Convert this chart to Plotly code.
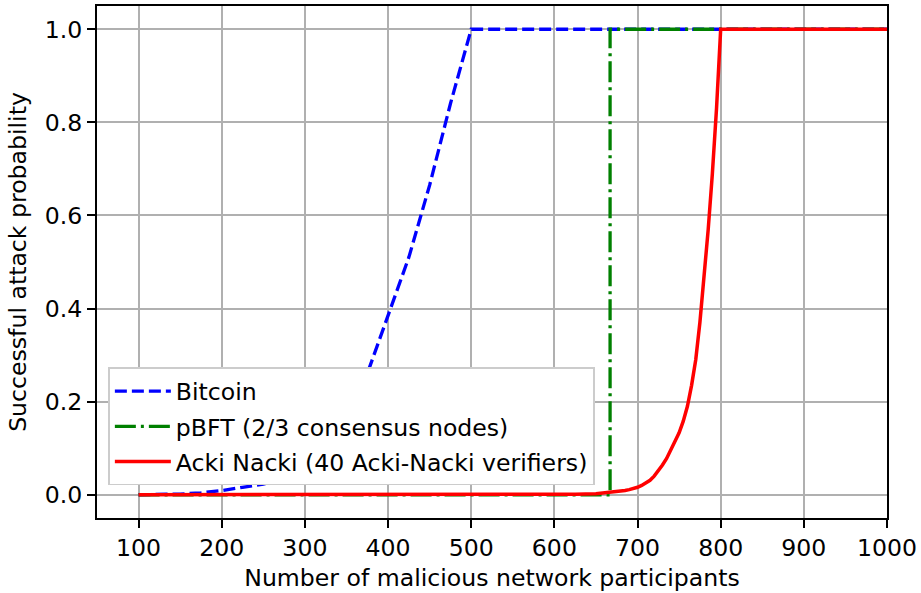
import plotly.graph_objects as go

# Data
bitcoin_x = [100, 125, 150, 175, 200, 225, 250, 275, 300, 325, 350, 375, 400, 425, 450, 475, 500, 1000]
bitcoin_y = [0.0, 0.0005, 0.0015, 0.004, 0.009, 0.016, 0.023, 0.034, 0.055, 0.09, 0.155, 0.26, 0.385, 0.51, 0.665, 0.84, 1.0, 1.0]

pbft_x = [100, 667, 667, 1000]
pbft_y = [0.0, 0.0, 1.0, 1.0]

acki_x = [100, 200, 300, 400, 500, 600, 625, 650, 670, 680, 685, 690, 695, 700, 705, 710, 715, 720, 725,
          730, 735, 740, 745, 750, 755, 760, 765, 770, 775, 780, 785, 790, 795, 800, 1000]
acki_y = [0.0, 0.0, 0.0, 0.0, 0.0, 0.0005, 0.001, 0.002, 0.005, 0.007, 0.009, 0.011, 0.013, 0.016, 0.02,
          0.025, 0.031, 0.04, 0.051, 0.064, 0.078, 0.095, 0.113, 0.133, 0.158, 0.19, 0.235, 0.29, 0.37,
          0.465, 0.57, 0.69, 0.83, 1.0, 1.0]

x_ticks = [100, 200, 300, 400, 500, 600, 700, 800, 900, 1000]
y_ticks = [0.0, 0.2, 0.4, 0.6, 0.8, 1.0]

FONT = "DejaVu Sans"
FS = 23.6
fig = go.Figure()
fig.add_trace(go.Scatter(x=bitcoin_x, y=bitcoin_y, mode="lines", name="Bitcoin",
                         legendgroup="a",
                         line=dict(color="#0000ff", width=3.3, dash="12px,5px")))
fig.add_trace(go.Scatter(x=pbft_x, y=pbft_y, mode="lines", name="pBFT (2/3 consensus nodes)",
                         legendgroup="b",
                         line=dict(color="#008000", width=3.3, dash="21px,5px,3px,5px")))
fig.add_trace(go.Scatter(x=acki_x, y=acki_y, mode="lines", name="Acki Nacki (40 Acki-Nacki verifiers)",
                         legendgroup="c",
                         line=dict(color="#ff0000", width=3.5)))

axis_common = dict(showline=True, mirror=True, linecolor="black", linewidth=1.8,
                   showgrid=True, gridcolor="#b0b0b0", gridwidth=1.7,
                   ticks="outside", ticklen=8, tickwidth=1.8, tickcolor="black",
                   zeroline=False, tickfont=dict(family=FONT, size=FS, color="black"))

fig.update_layout(
    width=921, height=593,
    margin=dict(l=97, r=33, t=4, b=75),
    paper_bgcolor="white", plot_bgcolor="white",
    font=dict(family=FONT, size=FS, color="black"),
    xaxis=dict(range=[50, 1000], tickvals=x_ticks,
               title=dict(text="Number of malicious network participants", standoff=8,
                          font=dict(family=FONT, size=FS, color="black")),
               **axis_common),
    yaxis=dict(range=[-0.05, 1.05], tickvals=y_ticks, tickformat=".1f",
               title=dict(text="Successful attack probability", standoff=12,
                          font=dict(family=FONT, size=FS, color="black")),
               **axis_common),
    legend=dict(x=0.014, y=0.294, xanchor="left", yanchor="top",
                bgcolor="white", bordercolor="#cccccc", borderwidth=1.8,
                font=dict(family=FONT, size=FS, color="black"),
                tracegroupgap=1.5, itemwidth=56),
    showlegend=True,
)

fig.write_html("out.html")
